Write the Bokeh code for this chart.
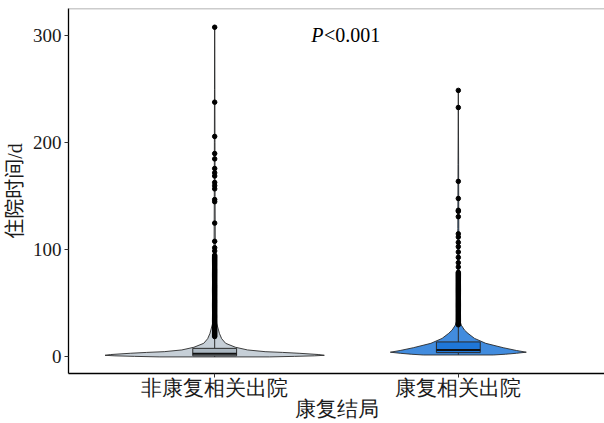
from bokeh.plotting import figure
from bokeh.models import Range1d, FixedTicker, Span
from bokeh.core.properties import value
from bokeh.embed import file_html
from bokeh.resources import INLINE

# ---- data ----
categories = ["非康复相关出院", "康复相关出院"]
cat_pos = [1, 2]
y_ticks = [0, 100, 200, 300]
x_title = "康复结局"
y_title = "住院时间/d"

# violin profiles: length of stay (d) and relative density (max of group 1 = 1)
violin1_y = [0, 0.5, 1.0, 1.5, 2.2, 3.4, 4.2, 4.9, 6.5, 9, 12.7, 17, 22, 31.5, 45, 70, 100, 150, 200, 250, 310]
violin1_d = [0.50, 0.73, 0.91, 1.00, 0.95, 0.77, 0.62, 0.46, 0.30, 0.19, 0.10, 0.064, 0.043, 0.018,
             0.011, 0.008, 0.0055, 0.0036, 0.0027, 0.0018, 0.0]
violin2_y = [1.8, 2.5, 3.4, 4.4, 6, 8.6, 12.7, 17.3, 22, 25, 29.7, 34, 50, 80, 120, 180, 250]
violin2_d = [0.32, 0.43, 0.53, 0.62, 0.53, 0.41, 0.25, 0.148, 0.088, 0.057, 0.027, 0.014,
             0.009, 0.0064, 0.0045, 0.0027, 0.0]

# box statistics
q1 = [1, 4]
median = [3, 6.5]
q3 = [8, 14]
whisker_low = [0, 2]
whisker_high = [18, 29]

# outliers
outliers1 = [308, 238, 206, 190, 185, 176, 172, 169, 163, 160, 157, 147, 145, 125, 108, 102, 99,
             95, 94, 93, 92, 91, 90, 89, 88, 87, 86, 85, 84, 83, 82, 81, 80, 79, 78, 77, 76, 75,
             74, 73, 72, 71, 70, 69, 68, 67, 66, 65, 64, 63, 62, 61, 60, 59, 58, 57, 56, 55, 54,
             53, 52, 51, 50, 49, 48, 47, 46, 45, 44, 43, 42, 41, 40, 39, 38, 37, 36, 35, 34, 33,
             32, 31, 30, 29, 28, 27, 26, 25, 24, 23, 22, 21, 20, 19]
outliers2 = [249, 233, 164, 148, 137, 136, 131, 115, 112, 107, 103, 98, 93, 88, 84,
             79, 78, 77, 76, 75, 74, 73, 72, 71, 70, 69, 68, 67, 66, 65, 64, 63, 62, 61, 60,
             59, 58, 57, 56, 55, 54, 53, 52, 51, 50, 49, 48, 47, 46, 45, 44, 43, 42, 41, 40,
             39, 38, 37, 36, 35, 34, 33, 32, 31, 30]

p_text = "<0.001"

# ---- styles ----
violin_fill = ["#c6cfd7", "#428cde"]
box_fill = ["#aab6c0", "#1f77d8"]
outline = "#2a2a2a"
half_width = 0.45
box_half = 0.09
serif = "Liberation Serif"
cjk = "'Liberation Serif', 'Noto Sans CJK SC'"

p = figure(width=604, height=423, x_range=Range1d(0.4, 2.6), y_range=Range1d(-15.5, 325.5),
           output_backend="svg", toolbar_location=None,
           min_border_top=8, min_border_right=0, min_border_left=10, min_border_bottom=10)
p.outline_line_color = None
p.xgrid.grid_line_color = None
p.ygrid.grid_line_color = None
p.background_fill_color = "white"
p.border_fill_color = "white"

profiles = [(violin1_y, violin1_d), (violin2_y, violin2_d)]
for i, (vy, vd) in enumerate(profiles):
    c = cat_pos[i]
    xs = [c - d * half_width for d in vd] + [c + d * half_width for d in reversed(vd)]
    ys = list(vy) + list(reversed(vy))
    p.patch(xs, ys, fill_color=violin_fill[i], line_color=outline, line_width=0.9)

# whiskers
p.segment(x0=cat_pos, y0=q3, x1=cat_pos, y1=whisker_high, line_color=outline, line_width=1)
p.segment(x0=cat_pos, y0=whisker_low, x1=cat_pos, y1=q1, line_color=outline, line_width=1)
# boxes
p.quad(left=[c - box_half for c in cat_pos], right=[c + box_half for c in cat_pos],
       bottom=q1, top=q3, fill_color=box_fill, line_color=outline, line_width=1)
p.segment(x0=[c - box_half for c in cat_pos], y0=median, x1=[c + box_half for c in cat_pos],
          y1=median, line_color="#111111", line_width=2)
# outliers
p.scatter([cat_pos[0]] * len(outliers1), outliers1, size=4.5, color="black")
p.scatter([cat_pos[1]] * len(outliers2), outliers2, size=4.5, color="black")

# P value annotation
p.text(x=[1.396], y=[301], text=["P"], text_font=value(serif), text_font_size="20px",
       text_font_style="italic", text_color="black", text_baseline="middle")
p.text(x=[1.449], y=[301], text=[p_text], text_font=value(serif), text_font_size="20px",
       text_color="black", text_baseline="middle")

# top border line
p.add_layout(Span(location=325.5, dimension="width", line_color="#999999", line_width=1.5))

# axes
p.xaxis.ticker = FixedTicker(ticks=cat_pos)
p.xaxis.major_label_overrides = {cat_pos[i]: categories[i] for i in range(2)}
p.yaxis.ticker = FixedTicker(ticks=y_ticks)
for ax in (p.xaxis[0], p.yaxis[0]):
    ax.axis_line_color = "black"
    ax.axis_line_width = 1.3
    ax.major_tick_out = 4
    ax.major_tick_in = 0
    ax.minor_tick_line_color = None
    ax.major_tick_line_color = "#333333"
    ax.axis_label_text_font_style = "normal"
    ax.axis_label_text_color = "#1a1a1a"
    ax.major_label_text_color = "#1a1a1a"

p.xaxis.axis_label = x_title
p.yaxis.axis_label = y_title
p.xaxis.major_label_text_font = serif
p.xaxis.major_label_text_font_size = "21px"
p.xaxis.axis_label_text_font = serif
p.xaxis.axis_label_text_font_size = "21px"
p.xaxis.major_label_standoff = -2
p.xaxis.axis_label_standoff = -6
p.yaxis.major_label_text_font = serif
p.yaxis.major_label_text_font_size = "19px"
p.yaxis.axis_label_text_font = cjk
p.yaxis.axis_label_text_font_size = "20px"
p.yaxis.major_label_standoff = 3
p.yaxis.axis_label_standoff = 4

open("out.html", "w").write(file_html(p, INLINE))
